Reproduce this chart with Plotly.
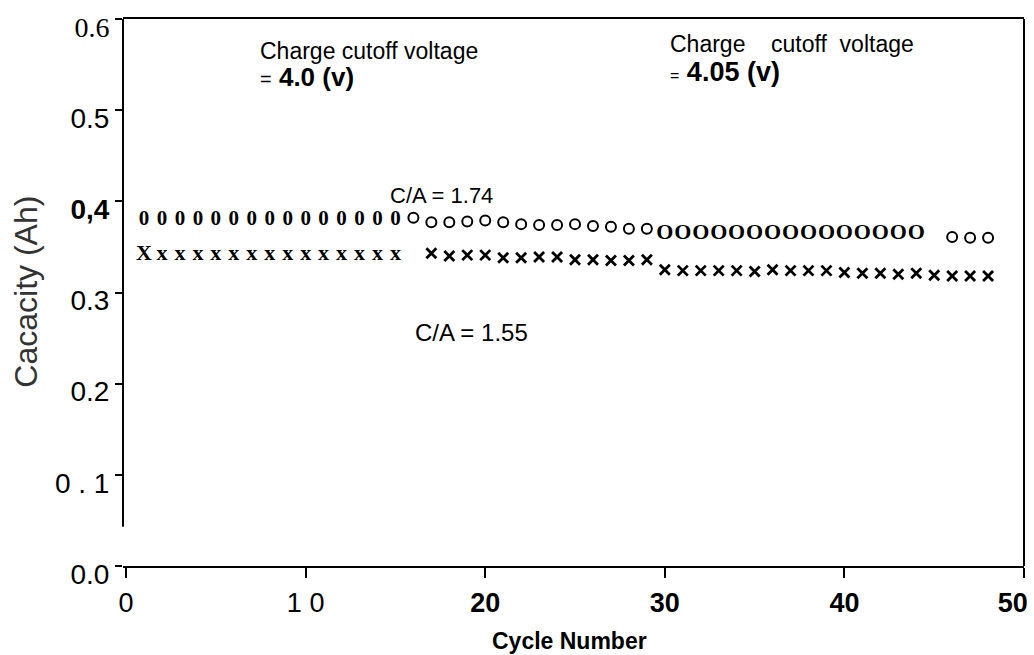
import plotly.graph_objects as go

# ---------------- data ----------------
# Series "C/A = 1.74" (circles)
cyc_o1 = list(range(1, 16))
cap_o1 = [0.380] * 15
cyc_o2 = list(range(16, 30))
cap_o2 = [0.382, 0.377, 0.377, 0.378, 0.379, 0.377, 0.375, 0.374, 0.374, 0.375,
          0.373, 0.372, 0.370, 0.370]
cyc_o3 = list(range(30, 45))
cap_o3 = [0.365] * 15
cyc_o4 = [46, 47, 48]
cap_o4 = [0.361, 0.360, 0.360]

# Series "C/A = 1.55" (crosses)
cyc_x1 = list(range(1, 16))
cap_x1 = [0.342] * 15
cyc_x2 = list(range(17, 49))
cap_x2 = [0.343, 0.340, 0.341, 0.341, 0.338, 0.338, 0.339, 0.339, 0.336, 0.336,
          0.335, 0.335, 0.336,
          0.325, 0.324, 0.324, 0.324, 0.324, 0.323, 0.325, 0.324, 0.324, 0.324,
          0.322, 0.321, 0.321, 0.320, 0.321, 0.319, 0.318, 0.318, 0.318]

NB = "\u00a0"
x_ticks = [0, 10, 20, 30, 40, 50]
x_ticktext = ["0", "1 0", "<b>20</b>", "<b>30</b>", "<b>40</b>", "<b>50</b>" + NB * 3]
y_ticks = [0.0, 0.1, 0.2, 0.3, 0.4, 0.5, 0.6]
y_ticktext = ["0.0", "0 . 1", "0.2", "0.3", "<b>0,4</b>", "0.5",
              "<span style='font-family:Liberation Serif'>0.6</span>"]

SERIF = "Liberation Serif, DejaVu Serif, serif"
SANS = "Liberation Sans, Arial, sans-serif"

fig = go.Figure()

# glyph-style points (as in the scanned figure)
fig.add_trace(go.Scatter(x=cyc_o1, y=cap_o1, mode="text", text=["0"] * len(cyc_o1),
                         textfont=dict(family=SERIF, size=21, color="black", weight="bold"),
                         textposition="middle center", showlegend=False))
fig.add_trace(go.Scatter(x=cyc_o2, y=cap_o2, mode="markers",
                         marker=dict(symbol="circle-open", size=10, color="black",
                                     line=dict(width=2, color="black")),
                         showlegend=False))
fig.add_trace(go.Scatter(x=cyc_o3, y=cap_o3, mode="text", text=["O"] * len(cyc_o3),
                         textfont=dict(family=SERIF, size=22, color="black", weight="bold"),
                         textposition="middle center", showlegend=False))
fig.add_trace(go.Scatter(x=cyc_o4, y=cap_o4, mode="markers",
                         marker=dict(symbol="circle-open", size=10, color="black",
                                     line=dict(width=2, color="black")),
                         showlegend=False))
fig.add_trace(go.Scatter(x=cyc_x1, y=cap_x1, mode="text",
                         text=["X"] + ["x"] * (len(cyc_x1) - 1),
                         textfont=dict(family=SERIF, size=22, color="black", weight="bold"),
                         textposition="middle center", showlegend=False))
fig.add_trace(go.Scatter(x=cyc_x2, y=cap_x2, mode="markers",
                         marker=dict(symbol="x-thin-open", size=10, color="black",
                                     line=dict(width=2.8, color="black")),
                         showlegend=False))

annotations = [
    dict(x=7.35, y=0.565, text="Charge cutoff voltage", xanchor="left", yanchor="middle",
         showarrow=False, font=dict(family=SANS, size=23, color="black")),
    dict(x=7.35, y=0.536, text="<span style='font-size:20px'>=</span> <b>4.0" + NB + "(v)</b>",
         xanchor="left", yanchor="middle",
         showarrow=False, font=dict(family=SANS, size=26, color="black")),
    dict(x=30.15, y=0.5725,
         text="Charge" + NB * 4 + "cutoff" + NB * 2 + "voltage",
         xanchor="left", yanchor="middle", showarrow=False,
         font=dict(family=SANS, size=23, color="black")),
    dict(x=30.15, y=0.542, text="<span style='font-size:16px'>=</span> <b>4.05 (v)</b>",
         xanchor="left", yanchor="middle", showarrow=False,
         font=dict(family=SANS, size=27, color="black")),
    dict(x=14.6, y=0.406, text="C/A = 1.74", xanchor="left", yanchor="middle",
         showarrow=False, font=dict(family=SANS, size=22, color="black")),
    dict(x=16.0, y=0.2556, text="C/A = 1.55", xanchor="left", yanchor="middle",
         showarrow=False, font=dict(family=SANS, size=24, color="black")),
    # axis titles
    dict(xref="paper", yref="paper", x=0.496, y=-0.137, text="<b>Cycle Number</b>",
         xanchor="center", yanchor="middle", showarrow=False,
         font=dict(family=SANS, size=23, color="black")),
    dict(xref="paper", yref="paper", x=-0.108, y=0.501, text="Cacacity (Ah)",
         textangle=-90, xanchor="center", yanchor="middle", showarrow=False,
         font=dict(family=SANS, size=32, color="#333")),
]

shapes = [
    # left frame line (stops short of the x axis, as in the scan)
    dict(type="line", xref="paper", yref="y", x0=0, x1=0, y0=0.043, y1=0.6,
         line=dict(color="black", width=2)),
    # right frame line
    dict(type="line", xref="paper", yref="paper", x0=1, x1=1, y0=0, y1=1,
         line=dict(color="black", width=2)),
]

fig.update_layout(
    width=1034, height=655,
    margin=dict(l=123, r=10, t=19, b=89),
    paper_bgcolor="white", plot_bgcolor="white",
    annotations=annotations,
    shapes=shapes,
    xaxis=dict(range=[-0.17, 50], tickmode="array", tickvals=x_ticks, ticktext=x_ticktext,
               ticks="outside", ticklen=10, tickwidth=2, tickcolor="black",
               showgrid=False, zeroline=False, showline=True, linewidth=2, linecolor="black",
               mirror=True, ticklabelstandoff=2, ticklabeloverflow="allow", automargin=False,
               tickfont=dict(family=SANS, size=27, color="black")),
    yaxis=dict(range=[0, 0.6], tickmode="array", tickvals=y_ticks, ticktext=y_ticktext,
               ticks="outside", ticklen=7, tickwidth=2, tickcolor="black",
               showgrid=False, zeroline=False, showline=False, automargin=False,
               ticklabelshift=8, ticklabeloverflow="allow",
               tickfont=dict(family=SANS, size=28, color="black")),
)

fig.write_html("out.html")
